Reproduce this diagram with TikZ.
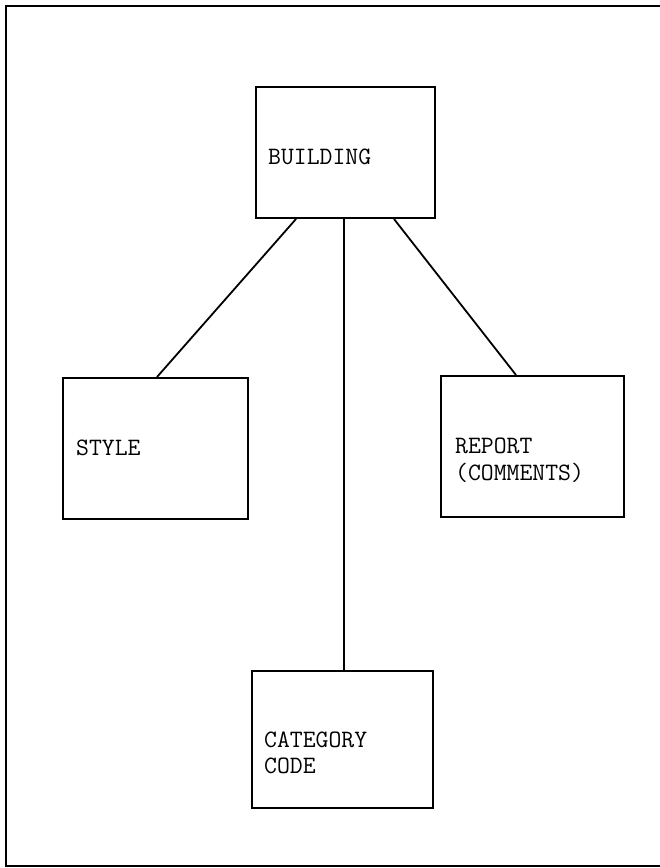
\documentclass[tikz,border=0pt]{standalone}
\usetikzlibrary{calc}
\begin{document}
\begin{tikzpicture}[x=1pt,y=-1pt,
  box/.style={draw=black, line width=2pt, rectangle, inner sep=0pt},
  conn/.style={draw=black, line width=1.8pt},
  lbl/.style={anchor=base west, inner sep=0pt, font=\ttfamily\fontsize{25}{27}\selectfont},
  frame/.style={draw=black, line width=2.8pt}]
\useasboundingbox (0,0) rectangle (660,868);
\draw[frame] (660,6) -- (6,6) -- (6,866) -- (660,866);
% boxes
\node[box, minimum width=179pt, minimum height=131pt] (building) at (345.5,152.5) {};
\node[box, minimum width=185pt, minimum height=141pt] (style) at (155.5,448.5) {};
\node[box, minimum width=183pt, minimum height=141pt] (report) at (532.5,446.5) {};
\node[box, minimum width=181pt, minimum height=137pt] (category) at (342.5,739.5) {};
% texts
\node[lbl] (tbuilding) at (268,164) {BUILDING};
\node[lbl] (tstyle) at (76,455) {STYLE};
\node[lbl] (treport) at (455,453) {REPORT};
\node[lbl] (tcomments) at (455,480) {(COMMENTS)};
\node[lbl] (tcategory) at (264,747) {CATEGORY};
\node[lbl] (tcode) at (264,773) {CODE};
% connectors
\draw[conn] ($(building.south west)+(41,0)$) -- ($(style.north west)+(95,0)$);
\draw[conn] ($(building.south)+(-1.5,0)$) -- ($(category.north)+(1.5,0)$);
\draw[conn] ($(building.south west)+(139,0)$) -- ($(report.north west)+(76,0)$);
\end{tikzpicture}
\end{document}
